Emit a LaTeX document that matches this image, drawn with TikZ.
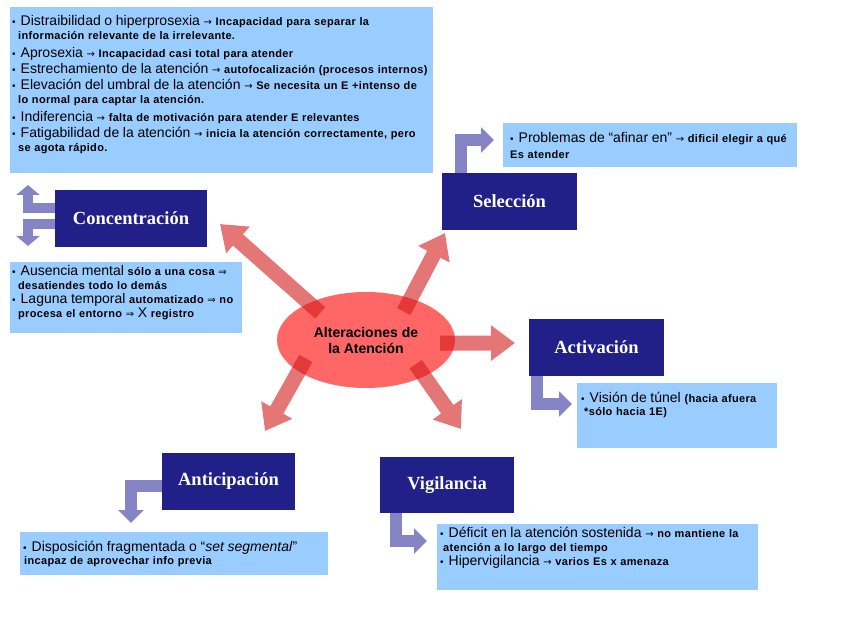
\documentclass[tikz,border=0pt]{standalone}
\usepackage{fontspec}
\setmainfont{Liberation Sans}
\newfontfamily\titlefont{Liberation Serif}
\newfontfamily\symfont{DejaVu Sans}
\usetikzlibrary{arrows.meta,shapes.geometric}
\definecolor{infofill}{HTML}{99CCFF}
\definecolor{navy}{HTML}{202088}
\definecolor{bendfill}{HTML}{8585C5}
\definecolor{corefill}{HTML}{FF6666}
\definecolor{rayfill}{HTML}{D41A1A}
\newcommand{\grande}[1]{{\fontsize{14}{16}\selectfont #1}}
\newcommand{\chico}[1]{{\fontsize{11}{16}\selectfont\bfseries\addfontfeature{LetterSpace=3}#1}}
\newcommand{\flecha}{{\symfont\fontsize{10}{16}\selectfont →}}
\newcommand{\implica}{{\symfont\fontsize{10}{16}\selectfont ⇒}}
\newcommand{\punto}{{\fontsize{10}{16}\selectfont\textbullet}\hspace{5pt}}
\newcommand{\relleno}[1]{\rule[-#1]{0pt}{#1}}

\begin{document}
\begin{tikzpicture}[x=1pt,y=-1pt,
  info/.style={fill=infofill, anchor=north west, align=left, inner xsep=2pt},
  ttl/.style={fill=navy, text=white, font=\titlefont\bfseries\fontsize{18.5}{20}\selectfont,
    minimum width=135pt, minimum height=57pt, inner sep=0pt},
  core/.style={ellipse, fill=corefill, minimum width=178pt, minimum height=96pt, inner sep=0pt,
    align=center, font=\bfseries\fontsize{14}{16}\selectfont},
  rayarrow/.style={draw=rayfill, line width=15pt, -{Triangle[width=34pt,length=24pt]}, shorten <=-15pt},
  bendarrow/.style={draw=bendfill, line width=12pt, -{Triangle[width=25pt,length=13pt]}, line join=miter},
]
\useasboundingbox (0,0) rectangle (848,636);
% list of alterations
\node[info, text width=419pt, inner ysep=7.7pt, font=\fontsize{11}{16}\selectfont] (dist) at (10,7)
  {\punto\grande{Distraibilidad o hiperprosexia} \flecha\ \chico{Incapacidad para separar la}\\[-2pt]
   \hspace*{6pt}\chico{información relevante de la irrelevante.}\\[2pt]
   \punto\grande{Aprosexia} \flecha\ \chico{Incapacidad casi total para atender}\\
   \punto\grande{Estrechamiento de la atención} \flecha\ \chico{autofocalización (procesos internos)}\\
   \punto\grande{Elevación del umbral de la atención} \flecha\ \chico{Se necesita un E +intenso de}\\[-2pt]
   \hspace*{6pt}\chico{lo normal para captar la atención.}\\[2pt]
   \punto\grande{Indiferencia} \flecha\ \chico{falta de motivación para atender E relevantes}\\
   \punto\grande{Fatigabilidad de la atención} \flecha\ \chico{inicia la atención correctamente, pero}\\[-2pt]
   \hspace*{6pt}\chico{se agota rápido.}\relleno{14.3pt}};
% centre
\node[core] (alt) at (366,340) {Alteraciones de\\la Atención};
% titles
\node[ttl, minimum width=152pt] (conc) at (131,218.5) {Concentración};
\node[ttl] (sel) at (509.5,201.5) {Selección};
\node[ttl] (act) at (596.5,347) {Activación};
\node[ttl, minimum width=133pt] (anti) at (228.5,481.5) {Anticipación};
\node[ttl, minimum width=134pt, minimum height=56pt] (vig) at (447,485) {Vigilancia};
% detail boxes
\node[info, text width=228pt, inner ysep=2.7pt, font=\fontsize{11}{14.3}\selectfont] (concbox) at (10,262)
  {\punto\grande{Ausencia mental} \chico{sólo a una cosa} \implica\\
   \hspace*{6pt}\chico{desatiendes todo lo demás}\\
   \punto\grande{Laguna temporal} \chico{automatizado} \implica\ \chico{no}\\
   \hspace*{6pt}\chico{procesa el entorno} \implica\ \grande{X} \chico{registro}\relleno{12.3pt}};
\node[info, text width=280pt, inner xsep=7pt, inner ysep=8.7pt, font=\fontsize{11}{16}\selectfont] (selbox) at (503,123)
  {\punto\grande{Problemas de “afinar en”} \flecha\ \chico{dificil elegir a qué}\\
   \chico{Es atender}};
\node[info, text width=192pt, inner xsep=4pt, inner ysep=8.7pt, font=\fontsize{11}{13.5}\selectfont] (actbox) at (577,383)
  {\punto\grande{Visión de túnel} \chico{(hacia afuera}\\
   \hspace*{3pt}\chico{*sólo hacia 1E)}\relleno{23.8pt}};
\node[info, text width=302pt, inner xsep=3pt, inner ysep=8.7pt, font=\fontsize{11}{13}\selectfont] (antibox) at (20,532)
  {\punto\grande{Disposición fragmentada o “\textit{set segmental}”}\\
   \hspace*{1pt}\chico{incapaz de aprovechar info previa}\relleno{2.3pt}};
\node[info, text width=315pt, inner xsep=3pt, inner ysep=2.7pt, font=\fontsize{11}{14}\selectfont] (vigbox) at (437,524)
  {\punto\grande{Déficit en la atención sostenida} \flecha\ \chico{no mantiene la}\\
   \hspace*{3pt}\chico{atención a lo largo del tiempo}\\
   \punto\grande{Hipervigilancia} \flecha\ \chico{varios Es x amenaza}\relleno{22.3pt}};
% arrow ends
\coordinate (toconc) at (220,224);
\coordinate (tosel) at (445,233);
\coordinate (toact) at (515,343);
\coordinate (toanti) at (265,431);
\coordinate (tovig) at (461,429);
\coordinate (concup) at (28,185);
\coordinate (concdown) at (28,246);
\coordinate (selend) at (494,140);
\coordinate (actend) at (572,404);
\coordinate (antiend) at (131,523);
\coordinate (vigend) at (427,541);
% red rays out of the centre
\begin{scope}[transparency group, opacity=0.6]
\draw[rayarrow] (alt.147) -- (toconc);
\draw[rayarrow] (alt.43) -- (tosel);
\draw[rayarrow] (alt.358) -- (toact);
\draw[rayarrow] (alt.205) -- (toanti);
\draw[rayarrow] (alt.328) -- (tovig);
\end{scope}
% bent arrows to the detail boxes
\draw[bendarrow, line width=10pt, -{Triangle[width=23pt,length=10pt]}] ([yshift=10.5pt]conc.west) -| (concup);
\draw[bendarrow, line width=10pt, -{Triangle[width=23pt,length=10pt]}] ([yshift=-5.5pt]conc.west) -| (concdown);
\draw[bendarrow] ([xshift=-48.5pt]sel.north) |- (selend);
\draw[bendarrow] ([xshift=-60pt]act.south) |- (actend);
\draw[bendarrow] ([yshift=-4.5pt]anti.west) -| (antiend);
\draw[bendarrow] ([xshift=-51pt]vig.south) |- (vigend);
\end{tikzpicture}
\end{document}
